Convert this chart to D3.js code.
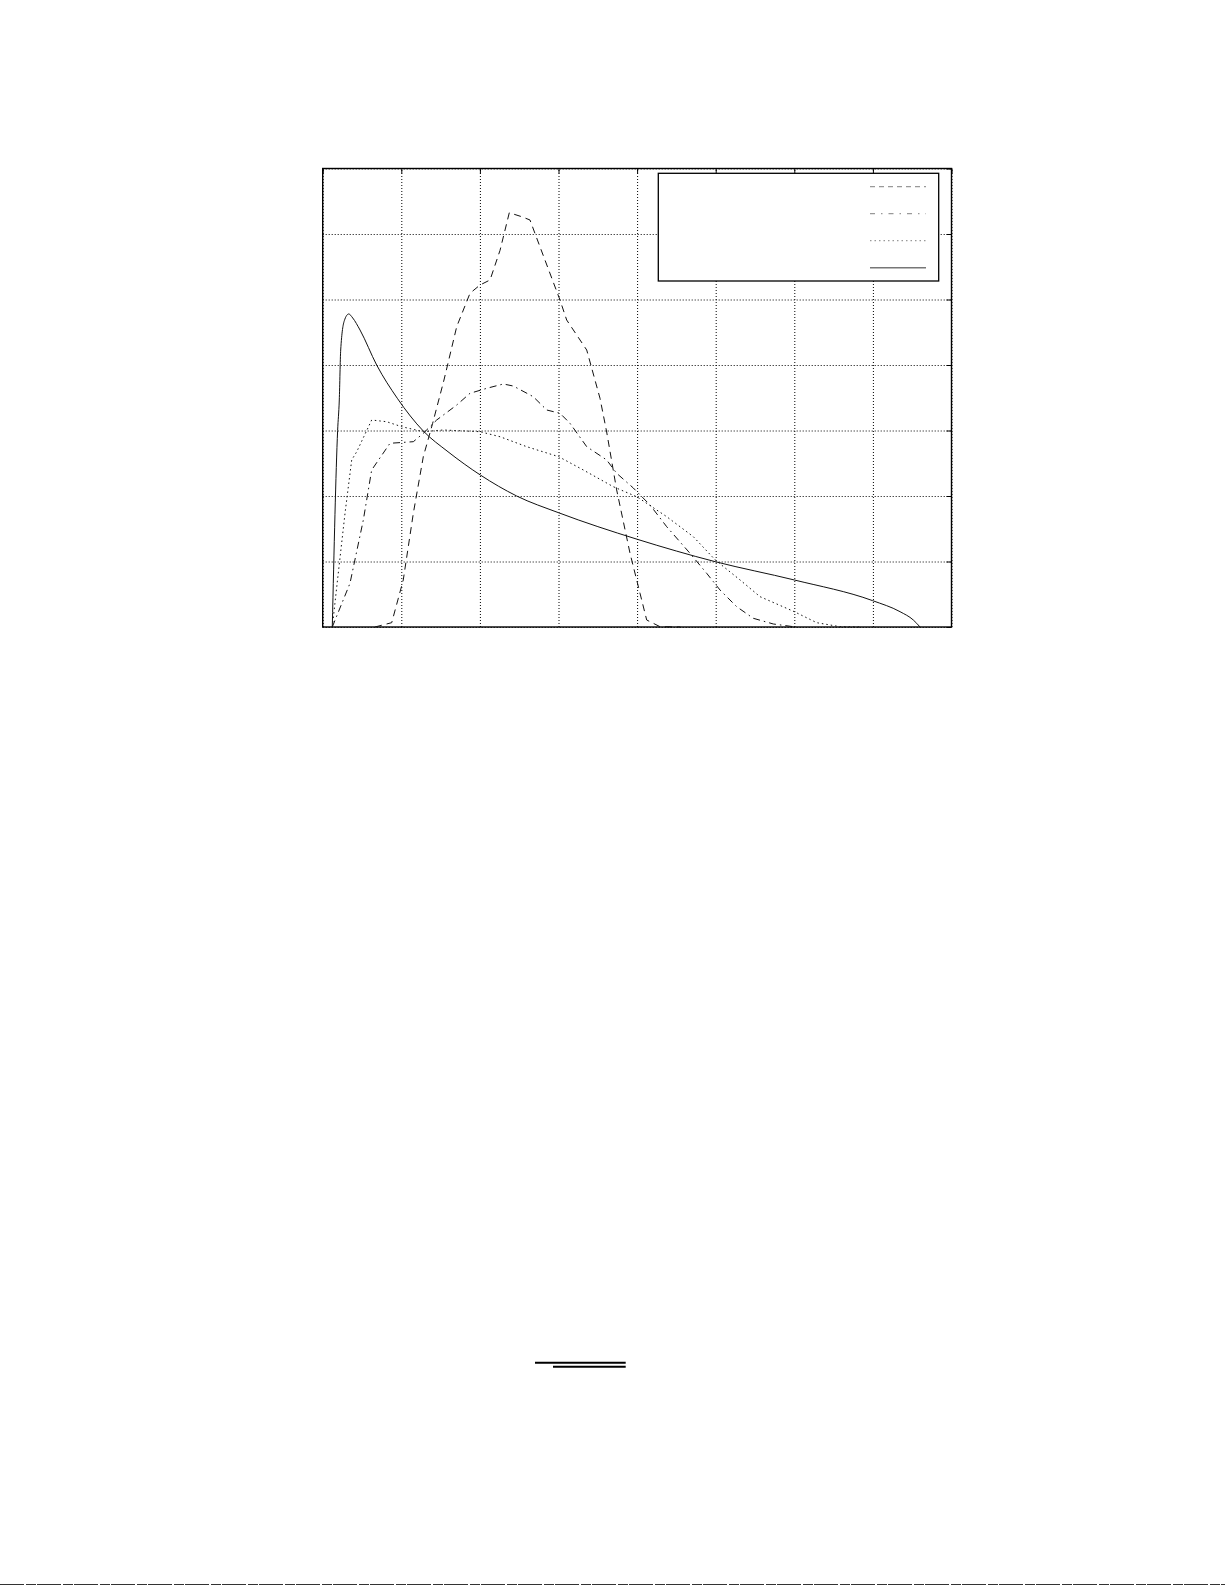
<!DOCTYPE html>
<html>
<head>
<meta charset="utf-8">
<script src="https://cdnjs.cloudflare.com/ajax/libs/d3/7.8.5/d3.min.js"></script>
<style>
  body { margin: 0; background: #fff; }
  .grid line { stroke: #000; stroke-width: 1; stroke-dasharray: 1,2; }
  .grid path { display: none; }
  .curve { fill: none; stroke: #111; stroke-width: 1; }
</style>
</head>
<body>
<div id="chart"></div>
<script>
// axis ranges (no tick labels are printed in the figure)
const xTicks = [0, 1, 2, 3, 4, 5, 6, 7, 8];
const yTicks = [0, 1, 2, 3, 4, 5, 6, 7];

// dashed series
const dashedSeries = [
  [0.665, 0], [0.878, 0.066], [1.025, 0.718], [1.153, 1.736], [1.280, 2.600],
  [1.399, 3.110], [1.543, 3.771], [1.705, 4.585], [1.874, 5.095], [2.001, 5.221],
  [2.129, 5.298], [2.256, 5.75], [2.374, 6.325], [2.532, 6.264], [2.637, 6.214],
  [2.764, 5.806], [3.019, 4.992], [3.104, 4.687], [3.359, 4.229], [3.528, 3.492],
  [3.613, 2.977], [3.740, 2.092], [3.910, 1.125], [4.037, 0.515], [4.122, 0.107],
  [4.291, 0.005], [4.55, 0]
];

// dash-dot series
const dashDotSeries = [
  [0.122, 0], [0.347, 0.667], [0.517, 1.634], [0.623, 2.397], [0.856, 2.805],
  [1.153, 2.829], [1.280, 2.957], [1.450, 3.160], [1.705, 3.389], [1.874, 3.568],
  [2.087, 3.644], [2.298, 3.710], [2.425, 3.679], [2.679, 3.516], [2.850, 3.313],
  [3.019, 3.263], [3.146, 3.110], [3.359, 2.753], [3.613, 2.550], [3.740, 2.347],
  [3.952, 2.122], [4.164, 1.863], [4.377, 1.531], [4.673, 1.125], [4.885, 0.820],
  [5.055, 0.565], [5.267, 0.310], [5.478, 0.133], [5.733, 0.046], [5.987, 0.005]
];

// dotted series
const dottedSeries = [
  [0.122, 0], [0.198, 0.820], [0.284, 1.736], [0.369, 2.550], [0.433, 2.676],
  [0.623, 3.160], [0.814, 3.134], [1.005, 3.058], [1.280, 2.982], [1.534, 3.008],
  [2.001, 2.982], [2.256, 2.905], [2.595, 2.753], [3.003, 2.600], [3.316, 2.397],
  [3.697, 2.142], [4.002, 1.985], [4.377, 1.684], [4.715, 1.379], [4.995, 1.023],
  [5.310, 0.718], [5.564, 0.463], [6.000, 0.234], [6.285, 0.066], [6.581, 0.005],
  [6.836, 0]
];

// solid series
const solidSeries = [
  [0.122, 0], [0.190, 3.0], [0.211, 3.466], [0.229, 4.229], [0.275, 4.676],
  [0.331, 4.779], [0.382, 4.718], [0.475, 4.534], [0.687, 3.999], [0.949, 3.492],
  [1.280, 2.992], [1.594, 2.676], [2.005, 2.321], [2.468, 2.0], [3.0, 1.745],
  [4.002, 1.339], [4.995, 0.997], [6.0, 0.718], [6.997, 0.402], [7.345, 0.234],
  [7.514, 0.107], [7.6, 0]
];

const legendStyles = [
  { dash: "5,4", color: "#999", width: 1.2 },
  { dash: "5,6,1.5,6", color: "#999", width: 1.2 },
  { dash: "1.5,3", color: "#999", width: 1.2 },
  { dash: null, color: "#777", width: 1.6 }
];

const margin = { top: 168.5, left: 322.7 };
const width = 628.8;
const height = 458.5;

const root = d3.select("#chart")
    .append("svg")
    .attr("width", 1225)
    .attr("height", 1585);

root.append("rect")
    .attr("width", 1225)
    .attr("height", 1585)
    .attr("fill", "#fff");

const svg = root.append("g")
    .attr("transform", `translate(${margin.left},${margin.top})`);

const x = d3.scaleLinear().domain([0, 8]).range([0, width]);
const y = d3.scaleLinear().domain([0, 7]).range([height, 0]);

// grid
svg.append("g")
    .attr("class", "grid")
    .attr("transform", `translate(0,${height})`)
    .call(d3.axisBottom(x).tickValues(xTicks).tickSize(-height).tickFormat(""));

svg.append("g")
    .attr("class", "grid")
    .call(d3.axisLeft(y).tickValues(yTicks).tickSize(-width).tickFormat(""));

// small inward ticks on top and right edges
svg.append("g")
    .call(d3.axisTop(x).tickValues(xTicks).tickSize(-5).tickFormat(""))
    .call(g => g.select(".domain").remove());

svg.append("g")
    .attr("transform", `translate(${width},0)`)
    .call(d3.axisRight(y).tickValues(yTicks).tickSize(-5).tickFormat(""))
    .call(g => g.select(".domain").remove());

// frame
svg.append("rect")
    .attr("width", width)
    .attr("height", height)
    .attr("fill", "none")
    .attr("stroke", "#000")
    .attr("stroke-width", 1.4);

const line = d3.line()
    .x(d => x(d[0]))
    .y(d => y(d[1]));

const smoothLine = d3.line()
    .x(d => x(d[0]))
    .y(d => y(d[1]))
    .curve(d3.curveMonotoneX);

svg.append("path").datum(dashedSeries).attr("class", "curve")
    .attr("stroke-dasharray", "7,5").attr("d", line);
svg.append("path").datum(dashDotSeries).attr("class", "curve")
    .attr("stroke-dasharray", "7,4,1.5,4").attr("d", line);
svg.append("path").datum(dottedSeries).attr("class", "curve")
    .attr("stroke-dasharray", "1.5,3").attr("d", line);
svg.append("path").datum(solidSeries).attr("class", "curve")
    .attr("d", smoothLine);

// legend (labels are absent in the figure)
const legend = root.append("g").attr("transform", "translate(658.3,173.3)");

legend.append("rect")
    .attr("width", 280.4)
    .attr("height", 107.7)
    .attr("fill", "#fff")
    .attr("stroke", "#000")
    .attr("stroke-width", 1.3);

legend.selectAll(".sample")
    .data(legendStyles)
    .enter().append("line")
    .attr("class", "sample")
    .attr("x1", 211.7)
    .attr("x2", 267.7)
    .attr("y1", (d, i) => 13.4 + i * 27)
    .attr("y2", (d, i) => 13.4 + i * 27)
    .attr("stroke", d => d.color)
    .attr("stroke-width", d => d.width)
    .attr("stroke-dasharray", d => d.dash);

// stray fraction bars lower on the page
root.append("line")
    .attr("x1", 535).attr("x2", 625.7)
    .attr("y1", 1362.7).attr("y2", 1362.7)
    .attr("stroke", "#000").attr("stroke-width", 2);
root.append("line")
    .attr("x1", 553).attr("x2", 625.7)
    .attr("y1", 1366.7).attr("y2", 1366.7)
    .attr("stroke", "#000").attr("stroke-width", 2);

// scan line at the bottom edge
root.append("line")
    .attr("x1", 0).attr("x2", 1225)
    .attr("y1", 1584.5).attr("y2", 1584.5)
    .attr("stroke", "#333").attr("stroke-width", 1)
    .attr("stroke-dasharray", "24,2,10,1");
</script>
</body>
</html>
